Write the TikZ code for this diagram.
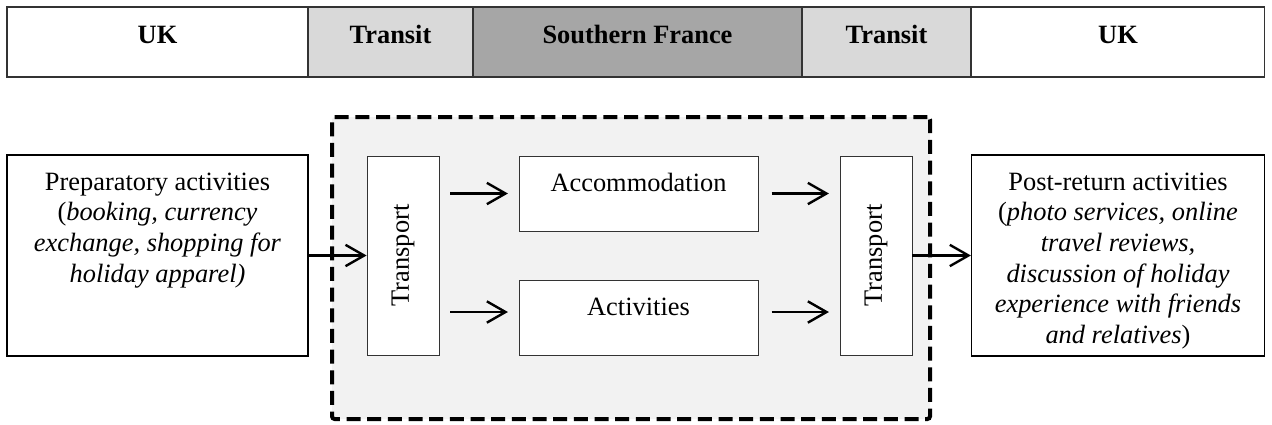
\documentclass[tikz,border=0pt]{standalone}
\usepackage{fontspec}
\setmainfont{Liberation Serif}
\usetikzlibrary{arrows.meta}
\definecolor{transitgray}{HTML}{D9D9D9}
\definecolor{francegray}{HTML}{A6A6A6}
\definecolor{tripgray}{HTML}{F2F2F2}

\begin{document}
\begin{tikzpicture}[x=0.75pt,y=-0.75pt,font=\fontsize{19.8}{23}\selectfont]
\tikzstyle{cell} = [draw=black!80, line width=0.8pt, font=\fontsize{19.8}{23}\selectfont\bfseries, inner sep=0pt, text height=27pt, text depth=25.5pt]
\tikzstyle{textbox} = [draw=black, fill=white, line width=0.9pt, inner sep=0pt, text height=26.25pt, text depth=124.5pt]
\tikzstyle{trip} = [draw=black, fill=tripgray, line width=3pt, dash pattern=on 10.5pt off 5pt, rounded corners=2pt, inner sep=0pt]
\tikzstyle{vert} = [draw=black!80, fill=white, line width=0.6pt, rotate=90, minimum width=149.25pt, minimum height=54pt, inner sep=0pt]
\tikzstyle{stage} = [draw=black!80, fill=white, line width=0.6pt, minimum width=179.25pt, inner sep=0pt, text height=26.25pt, text depth=30pt]
\tikzstyle{edge} = [draw=black, line width=1.8pt, -{Straight Barb[length=14pt,width=16pt]}]

\useasboundingbox (0,0) rectangle (1272,425);

\node[cell, minimum width=225.75pt] (uk1) at (157.5,42) {UK};
\node[cell, fill=transitgray, minimum width=123.75pt] (transit1) at (390.5,42) {Transit};
\node[cell, fill=francegray, minimum width=246.75pt] (france) at (637.5,42) {Southern France};
\node[cell, fill=transitgray, minimum width=126.75pt] (transit2) at (886.5,42) {Transit};
\node[cell, minimum width=219.75pt] (uk2) at (1118,42) {UK};

\node[trip, minimum width=448.5pt, minimum height=226.5pt] (abroad) at (631,268) {};

\node[textbox, minimum width=225.75pt] (prep) at (157.5,255.5) {\parbox[t]{215pt}{\centering Preparatory activities\\(\textit{booking, currency}\\\textit{exchange, shopping for}\\\textit{holiday apparel)}}};
\node[textbox, minimum width=219.75pt] (post) at (1118,255.5) {\parbox[t]{215pt}{\centering Post-return activities\\(\textit{photo services, online}\\\textit{travel reviews,}\\\textit{discussion of holiday}\\\textit{experience with friends}\\\textit{and relatives})}};

\node[vert] (trans1) at (403,255.5) {Transport};
\node[vert] (trans2) at (876,255.5) {Transport};
\node[stage] (accom) at (638.5,193.5) {Accommodation};
\node[stage] (activ) at (638.5,318) {Activities};

\draw[edge] (prep) to (trans1);
\draw[edge, shorten <=8pt, shorten >=8pt] (trans1.south |- accom.west) to (accom);
\draw[edge, shorten <=8pt, shorten >=8pt] ([yshift=4.5pt]trans1.south |- activ.west) to ([yshift=4.5pt]activ.west);
\draw[edge, shorten <=10pt, shorten >=8pt] (accom) to (accom -| trans2.north);
\draw[edge, shorten <=10pt, shorten >=8pt] ([yshift=4.5pt]activ.east) to ([yshift=4.5pt]activ.east -| trans2.north);
\draw[edge] (trans2) to (post);
\end{tikzpicture}
\end{document}
